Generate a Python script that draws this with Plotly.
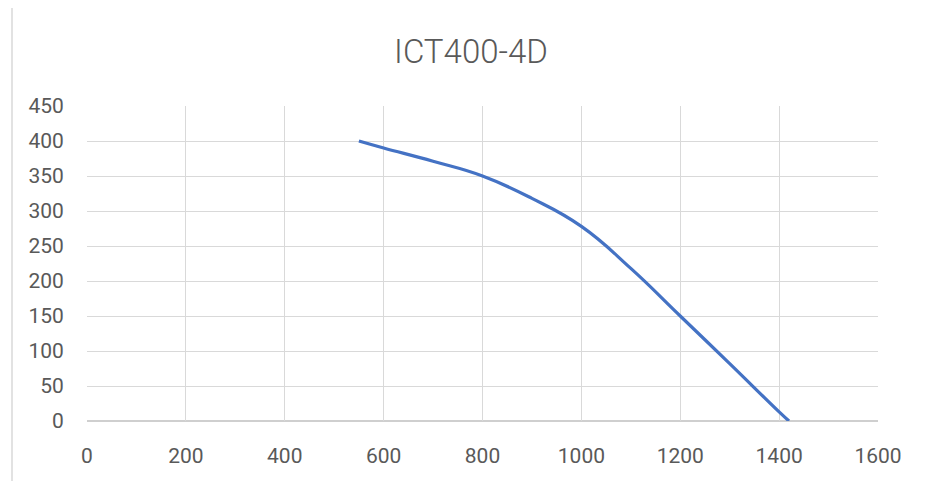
import plotly.graph_objects as go

flow = [550, 600, 700, 800, 900, 1000, 1100, 1200, 1300, 1400, 1420]
pressure = [400, 390, 371, 350, 318, 278, 218, 150, 82, 13, 0]
x_ticks = [0, 200, 400, 600, 800, 1000, 1200, 1400, 1600]
y_ticks = [0, 50, 100, 150, 200, 250, 300, 350, 400, 450]

# the page body adds an 8px offset; positions below are screen pixels
OFF = 8
W, H = 938 - OFF, 481 - OFF
L, R, T, B = 87 - OFF, 878 - OFF, 106 - OFF, 421 - OFF
pw, ph = R - L, B - T

fig = go.Figure()
fig.add_trace(go.Scatter(
    x=flow, y=pressure, mode="lines",
    line=dict(color="#4472C4", width=3.2, shape="spline", smoothing=1.3),
    showlegend=False, hoverinfo="skip",
))

font_family = "Roboto, Noto Sans, sans-serif"
fig.update_layout(
    width=W, height=H,
    margin=dict(l=L, r=W - R, t=T, b=H - B),
    paper_bgcolor="white", plot_bgcolor="white",
    title=dict(text="ICT400-4D", x=(471 - OFF) / W, xanchor="center",
               y=1 - (51 - OFF) / H, yanchor="middle",
               font=dict(family=font_family, size=33, color="#595959", weight=300)),
    font=dict(family=font_family, size=21, color="#595959"),
)
fig.update_xaxes(
    range=[0, 1600], tickvals=x_ticks, ticktext=[str(v) for v in x_ticks],
    showgrid=True, gridcolor="#D9D9D9", gridwidth=1.3,
    zeroline=False, showline=False, ticks="outside", ticklen=16,
    tickcolor="rgba(0,0,0,0)", fixedrange=True,
)
fig.update_yaxes(
    range=[0, 450], tickvals=y_ticks, ticktext=[str(v) for v in y_ticks],
    showgrid=True, gridcolor="#D9D9D9", gridwidth=1.3,
    zeroline=False, showline=False, ticks="outside", ticklen=18,
    tickcolor="rgba(0,0,0,0)", fixedrange=True,
)
# bottom axis line
fig.add_shape(type="line", xref="paper", yref="paper", x0=0, x1=1, y0=0, y1=0,
              line=dict(color="#BFBFBF", width=1.5), layer="below")
# outer chart border
fig.add_shape(type="rect", xref="paper", yref="paper",
              x0=(12 - OFF - L) / pw, x1=(932 - OFF - L) / pw,
              y0=(B - (520 - OFF)) / ph, y1=(B - (7 - OFF)) / ph,
              line=dict(color="#D9D9D9", width=1.5), fillcolor="rgba(0,0,0,0)", layer="below")

fig.write_html("out.html")
